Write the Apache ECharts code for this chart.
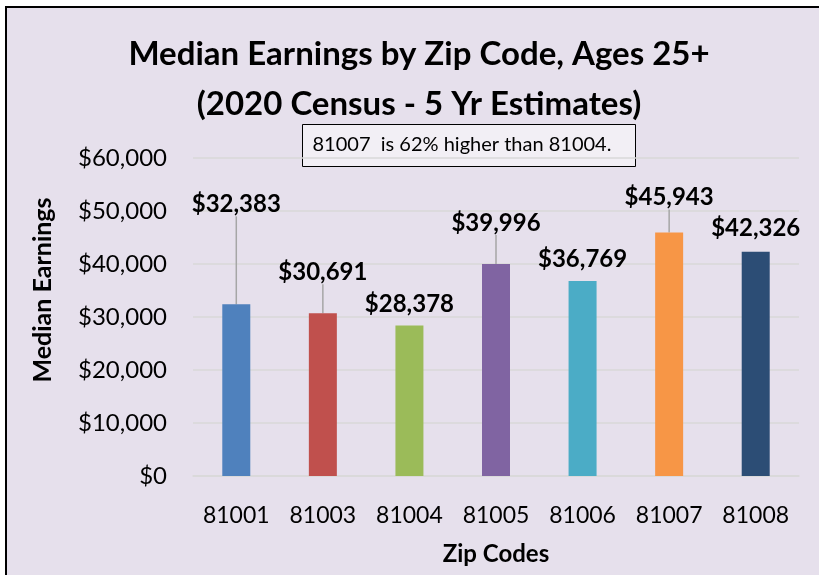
<!DOCTYPE html>
<html>
<head>
<meta charset="utf-8">
<script src="https://cdn.jsdelivr.net/npm/echarts@6/dist/echarts.min.js"></script>
<style>
  html, body { margin: 0; padding: 0; background: #ffffff; }
  #chart { width: 819px; height: 575px; }
</style>
</head>
<body>
<div id="chart"></div>
<script>
// ---- data ----
const zipCodes = ['81001', '81003', '81004', '81005', '81006', '81007', '81008'];
const earnings = [32383, 30691, 28378, 39996, 36769, 45943, 42326];
const barColors = ['#4f81bd', '#c0504d', '#9bbb59', '#8064a2', '#4bacc6', '#f79646', '#2c4d75'];
const titleLines = ['Median Earnings by Zip Code, Ages 25+', '(2020 Census - 5 Yr Estimates)'];
const noteText = '81007  is 62% higher than 81004.';
const yAxisTitle = 'Median Earnings';
const xAxisTitle = 'Zip Codes';

// ---- layout (label placement relative to bar top, px) ----
const labelLift = [-100, -41, -21, -41, -22, -35, -23];
const showLeader = [true, true, false, true, false, true, false];

const FONT = 'Lato, "Open Sans", sans-serif';
const fmtMoney = v => '$' + Math.round(v).toLocaleString('en-US');

const chart = echarts.init(document.getElementById('chart'), null, { renderer: 'canvas' });

chart.setOption({
  backgroundColor: '#ffffff',
  animation: false,
  textStyle: { fontFamily: FONT },
  graphic: [
    {
      type: 'rect', z: -10, silent: true,
      shape: { x: 6, y: 7, width: 830, height: 590 },
      style: { fill: '#e6e0ec', stroke: '#000000', lineWidth: 2 }
    },
    {
      type: 'group', left: 302, top: 124, z: 10,
      children: [
        {
          type: 'rect',
          shape: { x: 0, y: 0, width: 333, height: 42 },
          style: { fill: '#f2eff5', stroke: '#000000', lineWidth: 1 }
        },
        {
          type: 'text', x: 10, y: 20,
          style: {
            text: noteText, fill: '#000000',
            font: '20px ' + FONT, verticalAlign: 'middle'
          }
        }
      ]
    }
  ],
  title: {
    text: titleLines.join('\n'),
    left: 414, top: 24, textAlign: 'center',
    textStyle: { fontFamily: FONT, fontSize: 33, fontWeight: 'bold', color: '#000000', lineHeight: 50 }
  },
  grid: { left: 193, right: 20, top: 158, bottom: 99, containLabel: false },
  xAxis: {
    type: 'category',
    data: zipCodes,
    name: xAxisTitle,
    nameLocation: 'middle',
    nameGap: 66,
    nameTextStyle: { fontFamily: FONT, fontSize: 24, fontWeight: 'bold', color: '#000000' },
    axisLine: { show: true, lineStyle: { color: '#d9d9d9', width: 1.5 } },
    axisTick: { show: false },
    axisLabel: { fontFamily: FONT, fontSize: 23, color: '#000000', margin: 28, interval: 0 }
  },
  yAxis: {
    type: 'value',
    min: 0, max: 60000, interval: 10000,
    name: yAxisTitle,
    nameLocation: 'middle',
    nameGap: 138,
    nameRotate: 90,
    nameTextStyle: { fontFamily: FONT, fontSize: 25, fontWeight: 'bold', color: '#000000', padding: [0, 0, 0, 54] },
    axisLine: { show: false },
    axisTick: { show: false },
    axisLabel: { fontFamily: FONT, fontSize: 24, color: '#000000', margin: 26, formatter: fmtMoney },
    splitLine: { show: true, lineStyle: { color: '#d9d9d9', width: 1.5 } }
  },
  series: [{
    type: 'bar',
    barWidth: 28,
    data: earnings.map((v, i) => ({
      value: v,
      itemStyle: { color: barColors[i] },
      labelLine: { show: showLeader[i] }
    })),
    label: {
      show: true,
      position: 'top',
      formatter: p => fmtMoney(p.value),
      fontFamily: FONT, fontSize: 24, fontWeight: 'bold', color: '#000000',
      padding: [0, 0, 12, 0]
    },
    labelLine: { show: true, lineStyle: { color: '#a6a6a6', width: 1.5 } },
    labelLayout: p => ({
      x: p.rect.x + p.rect.width / 2,
      y: p.rect.y + labelLift[p.dataIndex],
      align: 'center',
      verticalAlign: 'middle'
    })
  }]
});
</script>
</body>
</html>
